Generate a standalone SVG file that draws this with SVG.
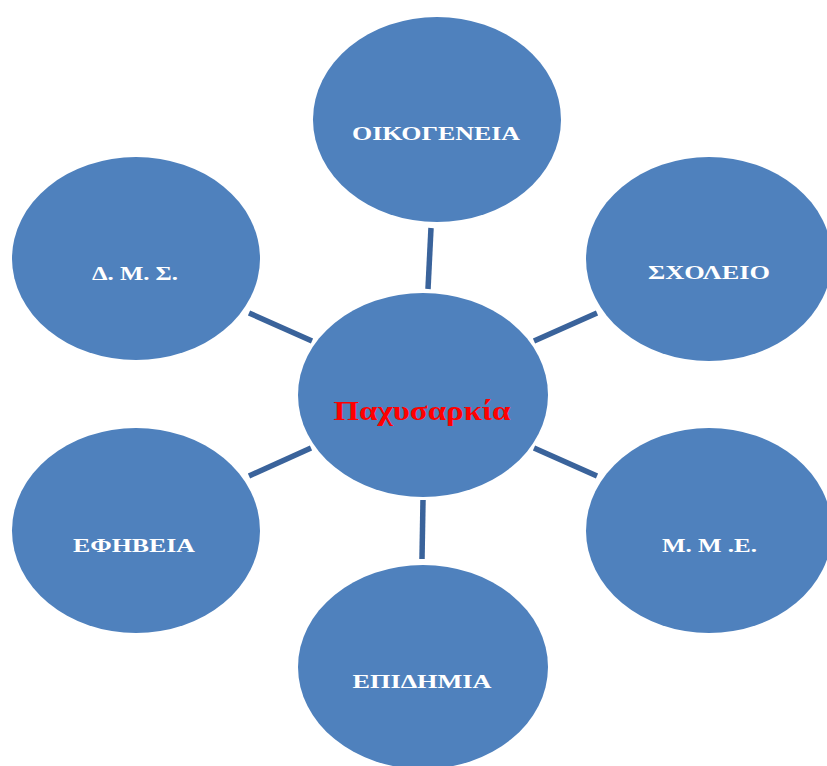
<svg xmlns="http://www.w3.org/2000/svg" width="827" height="766" viewBox="0 0 827 766">
<style>
.node{fill:#4F81BD;}
.lbl{font-family:"Liberation Serif","DejaVu Serif",serif;font-weight:bold;font-size:19px;fill:#FFFFFF;text-anchor:middle;}
.main{font-family:"Liberation Serif","DejaVu Serif",serif;font-weight:bold;font-size:27px;fill:#FF0000;text-anchor:middle;}
.conn{stroke:#3A639B;stroke-width:5.5;stroke-linecap:butt;fill:none;}
</style>
<rect width="827" height="766" fill="#FFFFFF"/>
<g id="connectors">
<line class="conn" x1="431" y1="228" x2="428" y2="289"/>
<line class="conn" x1="534" y1="341" x2="597" y2="313"/>
<line class="conn" x1="249" y1="313" x2="312" y2="341"/>
<line class="conn" x1="249" y1="476" x2="311" y2="448"/>
<line class="conn" x1="534" y1="448" x2="597" y2="476"/>
<line class="conn" x1="423" y1="500" x2="422" y2="559"/>
</g>
<g id="center">
<ellipse class="node" cx="423" cy="395" rx="125" ry="102"/>
<text class="main" x="422" y="420" textLength="177" lengthAdjust="spacingAndGlyphs">Παχυσαρκία</text>
</g>
<g id="oikogeneia">
<ellipse class="node" cx="437" cy="119.5" rx="124" ry="102.5"/>
<text class="lbl" x="436" y="140" textLength="168" lengthAdjust="spacingAndGlyphs">ΟΙΚΟΓΕΝΕΙΑ</text>
</g>
<g id="scholeio">
<ellipse class="node" cx="709" cy="259" rx="123" ry="102"/>
<text class="lbl" x="709" y="279" textLength="122" lengthAdjust="spacingAndGlyphs">ΣΧΟΛΕΙΟ</text>
</g>
<g id="dms">
<ellipse class="node" cx="136" cy="258.5" rx="124" ry="101.5"/>
<text class="lbl" x="135" y="280" textLength="86" lengthAdjust="spacingAndGlyphs">Δ. Μ. Σ.</text>
</g>
<g id="efiveia">
<ellipse class="node" cx="136" cy="530.5" rx="124" ry="102.5"/>
<text class="lbl" x="134" y="552" textLength="122" lengthAdjust="spacingAndGlyphs">ΕΦΗΒΕΙΑ</text>
</g>
<g id="mme">
<ellipse class="node" cx="709" cy="530.5" rx="123" ry="102.5"/>
<text class="lbl" x="709.5" y="552" textLength="95" lengthAdjust="spacingAndGlyphs">Μ. Μ .Ε.</text>
</g>
<g id="epidimia">
<ellipse class="node" cx="423" cy="667" rx="125" ry="102"/>
<text class="lbl" x="422" y="688" textLength="139" lengthAdjust="spacingAndGlyphs">ΕΠΙΔΗΜΙΑ</text>
</g>
</svg>
